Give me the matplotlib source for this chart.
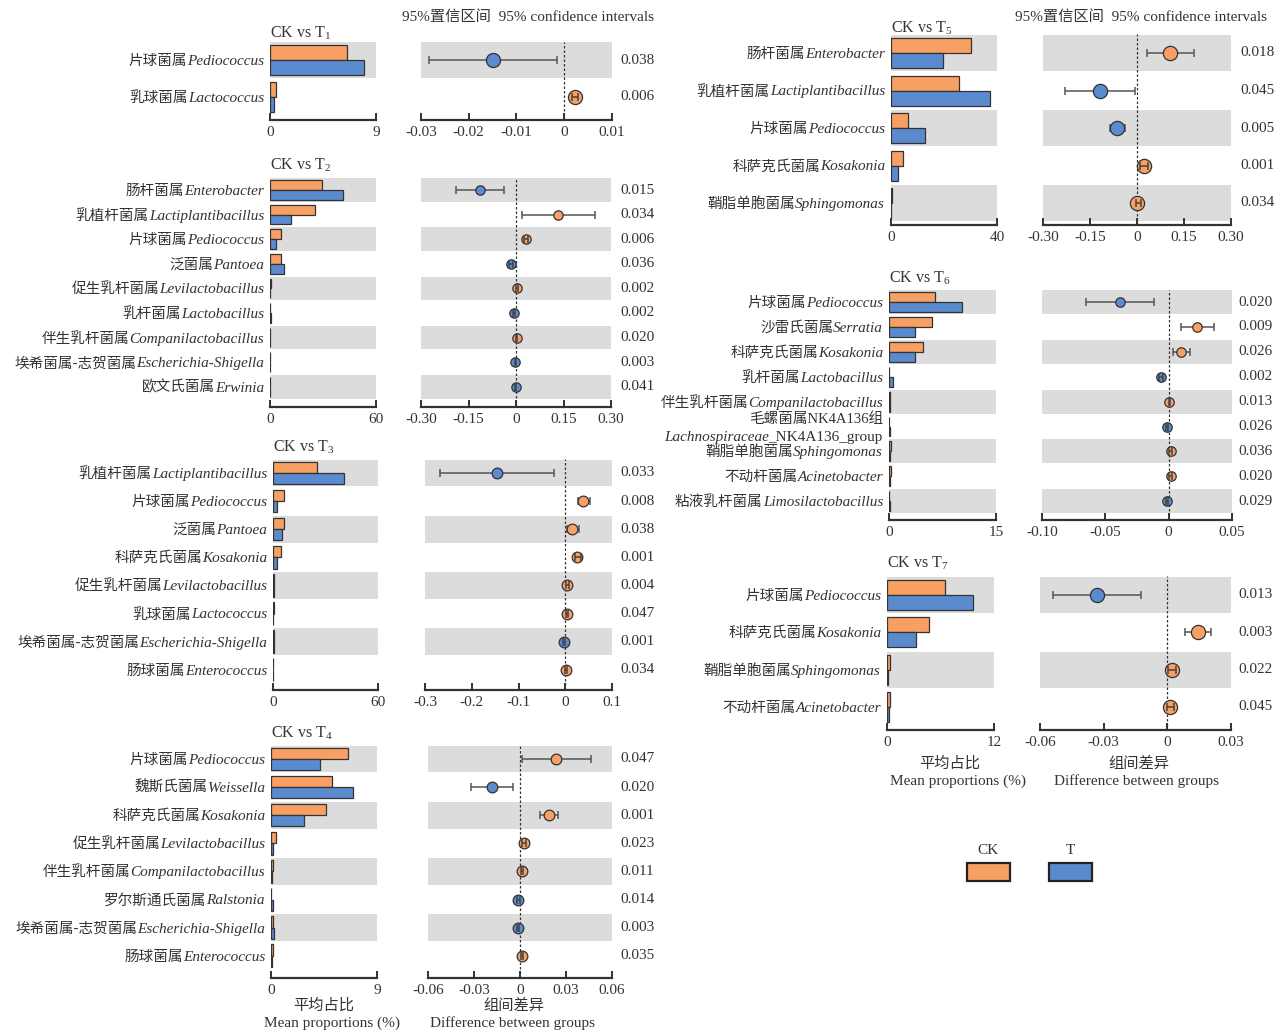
import matplotlib
matplotlib.use("Agg")
import matplotlib.pyplot as plt
from matplotlib.patches import Rectangle

W, H = 1282, 1033
ORANGE = "#F8A064"
BLUE = "#5B8BCF"
BAND = "#DCDCDC"
INK = "#333333"
LATIN = "Liberation Serif"
CJK = "Noto Sans CJK SC"

plt.rcParams["font.family"] = [LATIN, CJK]
plt.rcParams["mathtext.fontset"] = "custom"
plt.rcParams["mathtext.rm"] = LATIN
plt.rcParams["mathtext.it"] = LATIN + ":italic"

# ---- data ----
t1_cn = ["片球菌属", "乳球菌属"]
t1_la = ["Pediococcus", "Lactococcus"]
t1_ck = [6.5, 0.5]
t1_t = [8.0, 0.3]
t1_diff = [-0.0149, 0.0023]
t1_lo = [-0.0283, 0.0017]
t1_hi = [-0.0015, 0.0029]
t1_p = ["0.038", "0.006"]

t2_cn = ["肠杆菌属", "乳植杆菌属", "片球菌属", "泛菌属", "促生乳杆菌属", "乳杆菌属",
         "伴生乳杆菌属", "埃希菌属-志贺菌属", "欧文氏菌属"]
t2_la = ["Enterobacter", "Lactiplantibacillus", "Pediococcus", "Pantoea", "Levilactobacillus",
         "Lactobacillus", "Companilactobacillus", "Escherichia-Shigella", "Erwinia"]
t2_ck = [29.6, 25.4, 6.4, 6.4, 0.4, 0.1, 0.2, 0.1, 0.1]
t2_t = [41.5, 11.9, 3.6, 7.8, 0.2, 0.4, 0.1, 0.2, 0.2]
t2_diff = [-0.114, 0.134, 0.031, -0.016, 0.004, -0.005, 0.002, -0.002, -0.001]
t2_lo = [-0.190, 0.019, 0.025, -0.021, 0.001, -0.008, 0.000, -0.004, -0.003]
t2_hi = [-0.037, 0.248, 0.037, -0.011, 0.007, -0.002, 0.004, 0.000, 0.001]
t2_p = ["0.015", "0.034", "0.006", "0.036", "0.002", "0.002", "0.020", "0.003", "0.041"]

t3_cn = ["乳植杆菌属", "片球菌属", "泛菌属", "科萨克氏菌属", "促生乳杆菌属", "乳球菌属",
         "埃希菌属-志贺菌属", "肠球菌属"]
t3_la = ["Lactiplantibacillus", "Pediococcus", "Pantoea", "Kosakonia", "Levilactobacillus",
         "Lactococcus", "Escherichia-Shigella", "Enterococcus"]
t3_ck = [25.4, 6.4, 6.4, 4.5, 0.5, 0.3, 0.3, 0.2]
t3_t = [40.3, 2.4, 5.0, 2.1, 0.3, 0.2, 0.5, 0.1]
t3_diff = [-0.146, 0.039, 0.015, 0.026, 0.004, 0.003, -0.003, 0.002]
t3_lo = [-0.268, 0.027, 0.003, 0.020, 0.001, 0.001, -0.005, 0.000]
t3_hi = [-0.024, 0.054, 0.029, 0.033, 0.007, 0.006, -0.001, 0.004]
t3_p = ["0.033", "0.008", "0.038", "0.001", "0.004", "0.047", "0.001", "0.034"]

t4_cn = ["片球菌属", "魏斯氏菌属", "科萨克氏菌属", "促生乳杆菌属", "伴生乳杆菌属",
         "罗尔斯通氏菌属", "埃希菌属-志贺菌属", "肠球菌属"]
t4_la = ["Pediococcus", "Weissella", "Kosakonia", "Levilactobacillus", "Companilactobacillus",
         "Ralstonia", "Escherichia-Shigella", "Enterococcus"]
t4_ck = [6.5, 5.2, 4.7, 0.43, 0.18, 0.04, 0.18, 0.2]
t4_t = [4.2, 7.0, 2.8, 0.2, 0.1, 0.14, 0.25, 0.1]
t4_diff = [0.0235, -0.0185, 0.019, 0.0026, 0.0012, -0.0010, -0.0013, 0.0013]
t4_lo = [0.0010, -0.0320, 0.0130, 0.0015, 0.0005, -0.0018, -0.0022, 0.0005]
t4_hi = [0.0460, -0.0045, 0.0250, 0.0037, 0.0019, -0.0002, -0.0004, 0.0021]
t4_p = ["0.047", "0.020", "0.001", "0.023", "0.011", "0.014", "0.003", "0.035"]

t5_cn = ["肠杆菌属", "乳植杆菌属", "片球菌属", "科萨克氏菌属", "鞘脂单胞菌属"]
t5_la = ["Enterobacter", "Lactiplantibacillus", "Pediococcus", "Kosakonia", "Sphingomonas"]
t5_ck = [30.1, 25.6, 6.5, 4.7, 0.2]
t5_t = [19.5, 37.3, 12.8, 2.6, 0.1]
t5_diff = [0.106, -0.117, -0.064, 0.023, 0.001]
t5_lo = [0.033, -0.230, -0.087, 0.011, -0.004]
t5_hi = [0.183, -0.005, -0.038, 0.035, 0.012]
t5_p = ["0.018", "0.045", "0.005", "0.001", "0.034"]

t6_cn = ["片球菌属", "沙雷氏菌属", "科萨克氏菌属", "乳杆菌属", "伴生乳杆菌属",
         "毛螺菌属NK4A136组", "鞘脂单胞菌属", "不动杆菌属", "粘液乳杆菌属"]
t6_la = ["Pediococcus", "Serratia", "Kosakonia", "Lactobacillus", "Companilactobacillus",
         "Lachnospiraceae", "Sphingomonas", "Acinetobacter", "Limosilactobacillus"]
t6_ck = [6.5, 6.0, 4.7, 0.05, 0.2, 0.05, 0.28, 0.28, 0.05]
t6_t = [10.3, 3.7, 3.7, 0.6, 0.15, 0.15, 0.15, 0.15, 0.15]
t6_diff = [-0.0387, 0.0225, 0.0098, -0.0060, 0.0006, -0.0016, 0.0016, 0.0016, -0.0013]
t6_lo = [-0.0656, 0.0098, 0.0035, -0.0075, 0.0000, -0.0025, 0.0005, 0.0005, -0.0022]
t6_hi = [-0.0117, 0.0358, 0.0170, -0.0045, 0.0012, -0.0007, 0.0027, 0.0027, -0.0004]
t6_p = ["0.020", "0.009", "0.026", "0.002", "0.013", "0.026", "0.036", "0.020", "0.029"]

t7_cn = ["片球菌属", "科萨克氏菌属", "鞘脂单胞菌属", "不动杆菌属"]
t7_la = ["Pediococcus", "Kosakonia", "Sphingomonas", "Acinetobacter"]
t7_ck = [6.5, 4.7, 0.3, 0.3]
t7_t = [9.7, 3.2, 0.1, 0.2]
t7_diff = [-0.033, 0.0143, 0.0023, 0.0013]
t7_lo = [-0.054, 0.0084, 0.0003, -0.0003]
t7_hi = [-0.0122, 0.0208, 0.0040, 0.0030]
t7_p = ["0.013", "0.003", "0.022", "0.045"]

# ---- layout in pixels ----
PANELS = [
    dict(n="1", cn=t1_cn, la=t1_la, ck=t1_ck, t=t1_t, d=t1_diff, lo=t1_lo, hi=t1_hi, p=t1_p,
         xmax=9, ci=(-0.03, 0.01), cit=[-0.03, -0.02, -0.01, 0, 0.01],
         citl=["-0.03", "-0.02", "-0.01", "0", "0.01"],
         bl=270, br=376, cl=421, cr=612, r0=60, sp=37, ax=120, ty=33, px=620),
    dict(n="2", cn=t2_cn, la=t2_la, ck=t2_ck, t=t2_t, d=t2_diff, lo=t2_lo, hi=t2_hi, p=t2_p,
         xmax=60, ci=(-0.30, 0.30), cit=[-0.30, -0.15, 0, 0.15, 0.30],
         citl=["-0.30", "-0.15", "0", "0.15", "0.30"],
         bl=270, br=376, cl=421, cr=611, r0=190, sp=24.6, ax=407, ty=165, px=620),
    dict(n="3", cn=t3_cn, la=t3_la, ck=t3_ck, t=t3_t, d=t3_diff, lo=t3_lo, hi=t3_hi, p=t3_p,
         xmax=60, ci=(-0.3, 0.1), cit=[-0.3, -0.2, -0.1, 0, 0.1],
         citl=["-0.3", "-0.2", "-0.1", "0", "0.1"],
         bl=273, br=378, cl=425, cr=612, r0=473, sp=28.1, ax=690, ty=447, px=620),
    dict(n="4", cn=t4_cn, la=t4_la, ck=t4_ck, t=t4_t, d=t4_diff, lo=t4_lo, hi=t4_hi, p=t4_p,
         xmax=9, ci=(-0.06, 0.06), cit=[-0.06, -0.03, 0, 0.03, 0.06],
         citl=["-0.06", "-0.03", "0", "0.03", "0.06"],
         bl=271, br=377, cl=428, cr=612, r0=759, sp=28.1, ax=978, ty=733, px=620),
    dict(n="5", cn=t5_cn, la=t5_la, ck=t5_ck, t=t5_t, d=t5_diff, lo=t5_lo, hi=t5_hi, p=t5_p,
         xmax=40, ci=(-0.30, 0.30), cit=[-0.30, -0.15, 0, 0.15, 0.30],
         citl=["-0.30", "-0.15", "0", "0.15", "0.30"],
         bl=891, br=997, cl=1043, cr=1231, r0=53, sp=37.5, ax=225, ty=28, px=1240),
    dict(n="6", cn=t6_cn, la=t6_la, ck=t6_ck, t=t6_t, d=t6_diff, lo=t6_lo, hi=t6_hi, p=t6_p,
         xmax=15, ci=(-0.10, 0.05), cit=[-0.10, -0.05, 0, 0.05],
         citl=["-0.10", "-0.05", "0", "0.05"],
         bl=889, br=996, cl=1042, cr=1232, r0=302, sp=24.9, ax=520, ty=278, px=1238),
    dict(n="7", cn=t7_cn, la=t7_la, ck=t7_ck, t=t7_t, d=t7_diff, lo=t7_lo, hi=t7_hi, p=t7_p,
         xmax=12, ci=(-0.06, 0.03), cit=[-0.06, -0.03, 0, 0.03],
         citl=["-0.06", "-0.03", "0", "0.03"],
         bl=887, br=994, cl=1040, cr=1231, r0=595, sp=37.3, ax=730, ty=563, px=1238),
]

FS = 11


def fx(x):
    return x / W


def fy(y):
    return 1 - y / H


def add_px_axes(fig, left, right, top, bottom):
    return fig.add_axes([fx(left), fy(bottom), (right - left) / W, (bottom - top) / H])


def style_axis(ax, ticks, labels, lim):
    ax.set_xlim(*lim)
    for s in ("top", "left", "right"):
        ax.spines[s].set_visible(False)
    ax.spines["bottom"].set_linewidth(1.6)
    ax.spines["bottom"].set_color(INK)
    ax.set_yticks([])
    ax.set_xticks(ticks)
    ax.set_xticklabels(labels)
    ax.tick_params(axis="x", direction="in", length=5, width=1.4, color=INK,
                   labelsize=FS, labelcolor=INK, pad=4)
    ax.set_facecolor("none")


def label_pieces(fig, rend, x_right, y, pieces):
    # pieces drawn right to left: (text, family, style, size, gap before it)
    x = x_right
    for text, fam, sty, size, gap in reversed(pieces):
        t = fig.text(fx(x), fy(y), text, ha="right", va="baseline", family=fam,
                     style=sty, fontsize=size, color=INK)
        bb = t.get_window_extent(rend)
        x = bb.x0 - gap


fig = plt.figure(figsize=(W / 100, H / 100), dpi=100)
fig.patch.set_facecolor("white")
rend = fig.canvas.get_renderer()

for pn in PANELS:
    n = len(pn["ck"])
    ybot = (pn["ax"] - pn["r0"]) / pn["sp"]
    top = pn["r0"] - pn["sp"] / 2
    rows = list(range(n))

    # mean proportions
    axb = add_px_axes(fig, pn["bl"], pn["br"], top, pn["ax"])
    for i in rows:
        if i % 2 == 0:
            axb.axhspan(i - 0.48, i + 0.48, color=BAND, lw=0, zorder=0)
    axb.barh([i - 0.2 for i in rows], pn["ck"], height=0.4, color=ORANGE,
             edgecolor=INK, linewidth=0.9, zorder=2)
    axb.barh([i + 0.2 for i in rows], pn["t"], height=0.4, color=BLUE,
             edgecolor=INK, linewidth=0.9, zorder=2)
    axb.set_ylim(ybot, -0.5)
    style_axis(axb, [0, pn["xmax"]], ["0", str(pn["xmax"])], (0, pn["xmax"]))

    # confidence intervals
    axc = add_px_axes(fig, pn["cl"], pn["cr"], top, pn["ax"])
    for i in rows:
        if i % 2 == 0:
            axc.axhspan(i - 0.48, i + 0.48, color=BAND, lw=0, zorder=0)
    axc.axvline(0, color=INK, lw=0.9, ls=(0, (2, 1.6)), zorder=1)
    dia = 0.38 * pn["sp"]
    ppu = (pn["cr"] - pn["cl"]) / (pn["ci"][1] - pn["ci"][0])
    for i in rows:
        d, lo, hi = pn["d"][i], pn["lo"][i], pn["hi"][i]
        col = ORANGE if d > 0 else BLUE
        narrow = (hi - lo) * ppu < dia
        axc.plot([d], [i], "o", ms=dia * 0.72, mfc=col, mec=INK, mew=0.9, zorder=3)
        axc.errorbar([d], [i], xerr=[[d - lo], [hi - d]], fmt="none",
                     ecolor="#444444" if narrow else "#555555", elinewidth=1.1,
                     capsize=2.6 if narrow else 3.2, capthick=1.1,
                     zorder=4 if narrow else 2)
    axc.set_ylim(ybot, -0.5)
    style_axis(axc, pn["cit"], pn["citl"], pn["ci"])

    # texts
    fig.text(fx(pn["bl"]), fy(pn["ty"]), r"CK vs T$_{%s}$" % pn["n"], ha="left",
             va="center", fontsize=11.5, color=INK, family=[LATIN])
    for i in rows:
        y = pn["r0"] + i * pn["sp"]
        fig.text(fx(pn["px"]), fy(y), pn["p"][i], ha="left", va="center",
                 fontsize=FS, color=INK, family=[LATIN])
        xr = pn["bl"] - 6
        if pn["la"][i] == "Lachnospiraceae":
            label_pieces(fig, rend, xr, y - 4, [(pn["cn"][i], [LATIN, CJK], "normal", 10.5, 0)])
            label_pieces(fig, rend, xr, y + 15,
                         [("Lachnospiraceae", [LATIN], "italic", FS, 0),
                          ("_NK4A136_group", [LATIN], "normal", FS, 0)])
        else:
            label_pieces(fig, rend, xr, y + 5,
                         [(pn["cn"][i], [CJK], "normal", 10.5, 8),
                          (pn["la"][i], [LATIN], "italic", FS, 0)])

# headers and axis titles
for x in (402, 1015):
    fig.text(fx(x), fy(17), "95%置信区间  95% confidence intervals", ha="left",
             va="center", fontsize=11, color=INK, family=[LATIN, CJK])

for (mx, dx, y1, y2) in [(324, 514, 1005, 1023), (950, 1139, 763, 781)]:
    fig.text(fx(mx), fy(y1), "平均占比", ha="center", va="center", fontsize=11,
             color=INK, family=[CJK])
    fig.text(fx(mx + 8), fy(y2), "Mean proportions (%)", ha="center", va="center",
             fontsize=11, color=INK, family=[LATIN])
    fig.text(fx(dx), fy(y1), "组间差异", ha="center", va="center", fontsize=11,
             color=INK, family=[CJK])
    fig.text(fx(dx - 2), fy(y2), "Difference between groups", ha="center",
             va="center", fontsize=11, color=INK, family=[LATIN])

# legend
for name, col, x0 in [("CK", ORANGE, 967), ("T", BLUE, 1049)]:
    fig.text(fx(x0 + 21), fy(850), name, ha="center", va="center", fontsize=11,
             color=INK, family=[LATIN])
    fig.add_artist(Rectangle((fx(x0), fy(881)), 43 / W, 18 / H, transform=fig.transFigure,
                             facecolor=col, edgecolor="#222222", linewidth=1.6))

fig.savefig("out.png", dpi=100, facecolor="white")
